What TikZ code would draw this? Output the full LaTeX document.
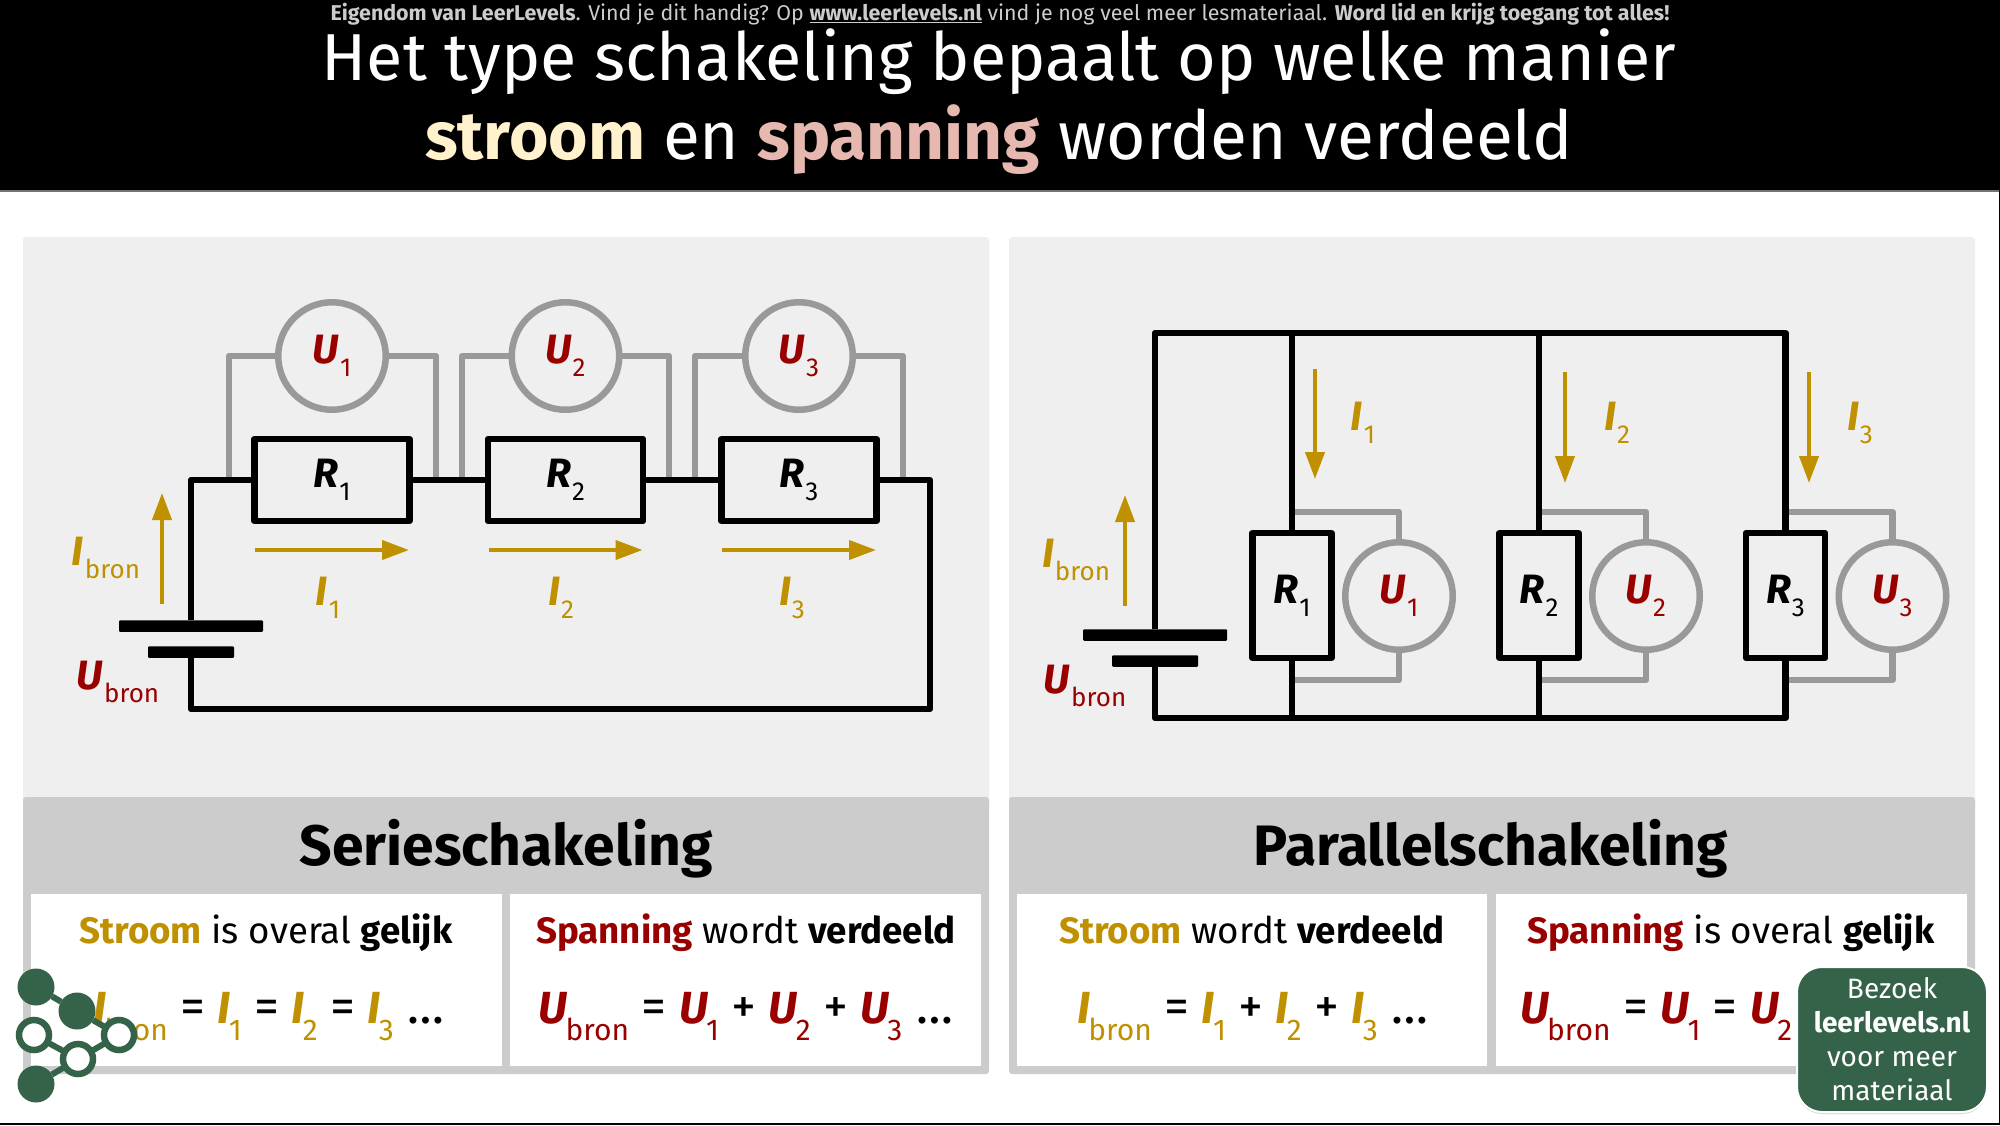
\documentclass[tikz,border=0pt]{standalone}
\usepackage{fontspec}
\setmainfont{Fira Sans}
\usetikzlibrary{arrows.meta,shadows}
\definecolor{Gold}{RGB}{191, 144, 0}
\definecolor{Red}{RGB}{153, 0, 0}
\definecolor{Mgrey}{RGB}{153, 153, 153}
\definecolor{Panel}{RGB}{239, 239, 239}
\definecolor{Head}{RGB}{204, 204, 204}
\definecolor{Leaf}{RGB}{53, 99, 73}
\definecolor{Cream}{RGB}{255, 242, 204}
\definecolor{Rose}{RGB}{230, 184, 175}
\newcommand{\fsz}[1]{\fontsize{#1}{#1}\selectfont}
\newcommand{\SymA}[2]{{\fsz{41}\bfseries\itshape #1}\kern1pt\raisebox{-13pt}{\fsz{26}#2}}
\newcommand{\SymB}[2]{{\fsz{45}\bfseries\itshape #1}\kern-2pt\raisebox{-17pt}{\fsz{30}#2}}
\newcommand{\Op}[1]{\kern12.5pt{\fsz{50}#1}\kern12.5pt}
\newcommand{\Dots}{\kern14pt{\fsz{50}…}}
\tikzset{
  wire/.style={line width=6.5pt,line join=round},
  meter/.style={line width=6.5pt,draw=Mgrey,line join=round},
  curarrow/.style={line width=4pt,draw=Gold,-{Triangle[width=19pt,length=27pt]}},
  resbox/.style={draw,line width=6.5pt,inner sep=0pt,outer sep=0pt,fill=Panel,line join=round},
  vmeter/.style={circle,draw=Mgrey,line width=6.5pt,inner sep=0pt,outer sep=0pt,minimum size=107.5pt,fill=Panel,text=Red},
  plate/.style={fill=black,inner sep=0pt,outer sep=0pt,minimum height=11.5pt,rounded corners=1pt},
  lab/.style={anchor=base,inner sep=0pt},
  boxtitle/.style={anchor=base,inner sep=0pt,font=\fsz{36.7}},
  formula/.style={anchor=base,inner sep=0pt},
  heading/.style={anchor=base,inner sep=0pt,font=\fsz{57}\bfseries},
  dotfill/.style={circle,fill=Leaf,inner sep=0pt,outer sep=0pt,minimum size=37pt},
  dotring/.style={circle,draw=Leaf,fill=white,line width=6.5pt,inner sep=0pt,outer sep=0pt,minimum size=30pt},
  logolink/.style={draw=Leaf,line width=6pt},
}
\begin{document}
\begin{tikzpicture}[x=1pt,y=-1pt]
	\useasboundingbox (0,0) rectangle (2000,1125);
	\fill[white] (0,0) rectangle (2000,1125);
	% header
	\fill[black!55] (0,190) rectangle (2000,191.5);
	\fill[black] (0,0) rectangle (2000,190);
	\fill[black] (0,1123) rectangle (2000,1125);
	\fill[black] (1998.5,190) rectangle (2000,1125);
	\node[anchor=base,inner sep=0pt,text=Head,font=\fsz{21.4}] (topline) at (1000,20) {\textbf{Eigendom van LeerLevels}. Vind je dit handig? Op \textbf{\underline{www.leerlevels.nl}} vind je nog veel meer lesmateriaal. \textbf{Word lid en krijg toegang tot alles!}};
	\node[anchor=base,inner sep=0pt,text=white,font=\fsz{66.4}] (titleA) at (999,80) {Het type schakeling bepaalt op welke manier};
	\node[anchor=base,inner sep=0pt,text=white,font=\fsz{67.6}] (titleB) at (999,159) {\textbf{\textcolor{Cream}{stroom}} en \textbf{\textcolor{Rose}{spanning}} worden verdeeld};
	% panels
	\fill[Panel,rounded corners=3pt] (23,237) rectangle (989,810);
	\fill[Panel,rounded corners=3pt] (1009,237) rectangle (1975,810);
	\fill[Head,rounded corners=3pt] (23,797) rectangle (989,1074);
	\fill[Head,rounded corners=3pt] (1009,797) rectangle (1975,1074);
	\fill[white] (31,894) rectangle (502,1066);
	\fill[white] (510,894) rectangle (981,1066);
	\fill[white] (1017,894) rectangle (1487,1066);
	\fill[white] (1496,894) rectangle (1967,1066);
	\node[heading] (headS) at (506,865) {Serieschakeling};
	\node[heading] (headP) at (1491,865) {Parallelschakeling};
	\node[boxtitle] (textA) at (266,943) {\textbf{\textcolor{Gold}{Stroom}} is overal \textbf{gelijk}};
	\node[boxtitle] (textB) at (746,943) {\textbf{\textcolor{Red}{Spanning}} wordt \textbf{verdeeld}};
	\node[boxtitle] (textC) at (1252,943) {\textbf{\textcolor{Gold}{Stroom}} wordt \textbf{verdeeld}};
	\node[boxtitle] (textD) at (1731,943) {\textbf{\textcolor{Red}{Spanning}} is overal \textbf{gelijk}};
	\node[formula] (formA) at (269,1023) {\textcolor{Gold}{\SymB{I}{bron}}\Op{=}\textcolor{Gold}{\SymB{I}{1}}\Op{=}\textcolor{Gold}{\SymB{I}{2}}\Op{=}\textcolor{Gold}{\SymB{I}{3}}\Dots};
	\node[formula] (formB) at (746,1023) {\textcolor{Red}{\SymB{U}{bron}}\Op{=}\textcolor{Red}{\SymB{U}{1}}\Op{+}\textcolor{Red}{\SymB{U}{2}}\Op{+}\textcolor{Red}{\SymB{U}{3}}\Dots};
	\node[formula] (formC) at (1253,1023) {\textcolor{Gold}{\SymB{I}{bron}}\Op{=}\textcolor{Gold}{\SymB{I}{1}}\Op{+}\textcolor{Gold}{\SymB{I}{2}}\Op{+}\textcolor{Gold}{\SymB{I}{3}}\Dots};
	\node[formula,anchor=base west] (formD) at (1520,1023) {\textcolor{Red}{\SymB{U}{bron}}\Op{=}\textcolor{Red}{\SymB{U}{1}}\Op{=}\textcolor{Red}{\SymB{U}{2}}};
	% series circuit
	\coordinate (sT1a) at (229,480);
	\coordinate (sT1b) at (436,480);
	\coordinate (sT2a) at (462,480);
	\coordinate (sT2b) at (669,480);
	\coordinate (sT3a) at (695,480);
	\coordinate (sT3b) at (903,480);
	\coordinate (sEnd) at (930,709);
	\node[vmeter] (sV1) at (332,356) {\SymA{U}{1}};
	\node[vmeter] (sV2) at (565.5,356) {\SymA{U}{2}};
	\node[vmeter] (sV3) at (799,356) {\SymA{U}{3}};
	\draw[meter] (sV1.west) -| (sT1a);
	\draw[meter] (sV1.east) -| (sT1b);
	\draw[meter] (sV2.west) -| (sT2a);
	\draw[meter] (sV2.east) -| (sT2b);
	\draw[meter] (sV3.west) -| (sT3a);
	\draw[meter] (sV3.east) -| (sT3b);
	\node[resbox,minimum width=155pt,minimum height=82pt] (sR1) at (332,480) {\SymA{R}{1}};
	\node[resbox,minimum width=155pt,minimum height=82pt] (sR2) at (565.5,480) {\SymA{R}{2}};
	\node[resbox,minimum width=155pt,minimum height=82pt] (sR3) at (799,480) {\SymA{R}{3}};
	\node[plate,minimum width=144pt] (sBatL) at (191,626) {};
	\node[plate,minimum width=86pt] (sBatS) at (191,652) {};
	\draw[wire] (sBatL.north) |- (sR1.west);
	\draw[wire] (sR1.east) -- (sR2.west);
	\draw[wire] (sR2.east) -- (sR3.west);
	\draw[wire] (sR3.east) -| (sEnd) -| (sBatS.south);
	\coordinate (sIa) at (162,604);
	\coordinate (sIb) at (162,493);
	\draw[curarrow] (sIa) -- (sIb);
	\coordinate (sI1a) at (255,550);
	\coordinate (sI1b) at (409,550);
	\coordinate (sI2a) at (488.5,550);
	\coordinate (sI2b) at (642.5,550);
	\coordinate (sI3a) at (722,550);
	\coordinate (sI3b) at (876,550);
	\draw[curarrow] (sI1a) -- (sI1b);
	\draw[curarrow] (sI2a) -- (sI2b);
	\draw[curarrow] (sI3a) -- (sI3b);
	\node[lab,text=Gold] (sLb1) at (328,605) {\SymA{I}{1}};
	\node[lab,text=Gold] (sLb2) at (561,605) {\SymA{I}{2}};
	\node[lab,text=Gold] (sLb3) at (792,605) {\SymA{I}{3}};
	\node[lab,text=Gold] (sLbI) at (106,565) {\SymA{I}{bron}};
	\node[lab,text=Red] (sLbU) at (118,689) {\SymA{U}{bron}};
	% parallel circuit
	\coordinate (pTopL) at (1156,333);
	\coordinate (pBotL) at (1156,718);
	\coordinate (pTop1) at (1292,333);
	\coordinate (pTop2) at (1539,333);
	\coordinate (pTop3) at (1785.5,333);
	\coordinate (pBot1) at (1292,718);
	\coordinate (pBot2) at (1539,718);
	\coordinate (pBot3) at (1785.5,718);
	\coordinate (pG1a) at (1292,512);
	\coordinate (pG1b) at (1292,680);
	\coordinate (pG2a) at (1539,512);
	\coordinate (pG2b) at (1539,680);
	\coordinate (pG3a) at (1785.5,512);
	\coordinate (pG3b) at (1785.5,680);
	\node[vmeter] (pV1) at (1399,596) {\SymA{U}{1}};
	\node[vmeter] (pV2) at (1646,596) {\SymA{U}{2}};
	\node[vmeter] (pV3) at (1892.5,596) {\SymA{U}{3}};
	\draw[meter] (pV1.north) |- (pG1a);
	\draw[meter] (pV1.south) |- (pG1b);
	\draw[meter] (pV2.north) |- (pG2a);
	\draw[meter] (pV2.south) |- (pG2b);
	\draw[meter] (pV3.north) |- (pG3a);
	\draw[meter] (pV3.south) |- (pG3b);
	\node[resbox,minimum width=79pt,minimum height=125pt] (pR1) at (1292,595.5) {\SymA{R}{1}};
	\node[resbox,minimum width=79pt,minimum height=125pt] (pR2) at (1539,595.5) {\SymA{R}{2}};
	\node[resbox,minimum width=79pt,minimum height=125pt] (pR3) at (1785.5,595.5) {\SymA{R}{3}};
	\node[plate,minimum width=144pt] (pBatL) at (1155,635) {};
	\node[plate,minimum width=86pt] (pBatS) at (1155,661) {};
	\draw[wire] (pBatL.north) |- (pTopL) -- (pTop1) -- (pTop2) -- (pTop3) -- (pR3.north);
	\draw[wire] (pBatS.south) |- (pBotL) -- (pBot1) -- (pBot2) -- (pBot3) -- (pR3.south);
	\draw[wire] (pTop1) -- (pR1.north);
	\draw[wire] (pBot1) -- (pR1.south);
	\draw[wire] (pTop2) -- (pR2.north);
	\draw[wire] (pBot2) -- (pR2.south);
	\coordinate (pIa) at (1125,606);
	\coordinate (pIb) at (1125,495);
	\draw[curarrow] (pIa) -- (pIb);
	\coordinate (pI1a) at (1315,369);
	\coordinate (pI1b) at (1315,479);
	\coordinate (pI2a) at (1565,372);
	\coordinate (pI2b) at (1565,483);
	\coordinate (pI3a) at (1809,372);
	\coordinate (pI3b) at (1809,483);
	\draw[curarrow] (pI1a) -- (pI1b);
	\draw[curarrow] (pI2a) -- (pI2b);
	\draw[curarrow] (pI3a) -- (pI3b);
	\node[lab,text=Gold] (pLb1) at (1363,430) {\SymA{I}{1}};
	\node[lab,text=Gold] (pLb2) at (1617,430) {\SymA{I}{2}};
	\node[lab,text=Gold] (pLb3) at (1860,430) {\SymA{I}{3}};
	\node[lab,text=Gold] (pLbI) at (1076,567) {\SymA{I}{bron}};
	\node[lab,text=Red] (pLbU) at (1085,693) {\SymA{U}{bron}};
	% logo
	\node[dotfill] (lgA) at (36,987) {};
	\node[dotfill] (lgB) at (77,1011) {};
	\node[dotring] (lgC) at (34,1035) {};
	\node[dotring] (lgD) at (119,1035) {};
	\node[dotring] (lgE) at (78,1059) {};
	\node[dotfill] (lgF) at (36,1084) {};
	\draw[logolink] (lgA) -- (lgB);
	\draw[logolink] (lgB) -- (lgD);
	\draw[logolink] (lgC) -- (lgE);
	\draw[logolink] (lgE) -- (lgD);
	\draw[logolink] (lgE) -- (lgF);
	% visit box
	\node[rounded corners=25pt,fill=Leaf,draw=white,line width=2pt,text=white,minimum width=190pt,minimum height=145pt,inner sep=0pt,align=center,font=\fontsize{28}{34}\selectfont,drop shadow={shadow xshift=0pt,shadow yshift=-2pt,opacity=.3}] (visit) at (1892,1039.5) {Bezoek\\\textbf{leerlevels.nl}\\voor meer\\materiaal};
\end{tikzpicture}
\end{document}
